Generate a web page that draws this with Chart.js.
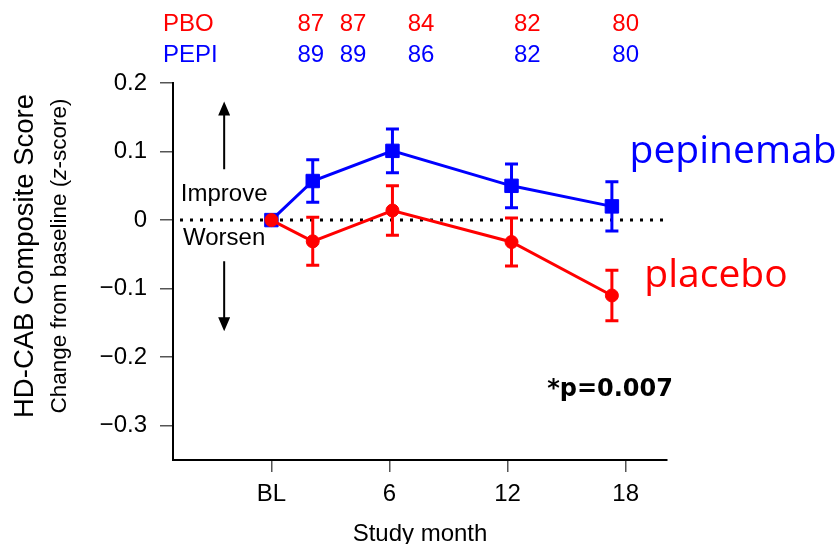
<!DOCTYPE html>
<html>
<head>
<meta charset="utf-8">
<script src="https://cdn.jsdelivr.net/npm/chart.js@4.4.0/dist/chart.umd.min.js"></script>
<style>
  html, body { margin: 0; padding: 0; background: #fff; }
  #wrap { width: 838px; height: 544px; }
</style>
</head>
<body>
<div id="wrap"><canvas id="myChart" width="838" height="544"></canvas></div>
<script>
// visit months (x) and mean change from baseline with error bars
const months = [0, 2.1, 6.15, 12.2, 17.3];
const placeboMean = [0, -0.031, 0.014, -0.032, -0.11];
const placeboErr = [0, 0.035, 0.036, 0.035, 0.037];
const pepiMean = [0, 0.057, 0.101, 0.05, 0.02];
const pepiErr = [0, 0.031, 0.032, 0.032, 0.036];

const xTickValues = [0, 6, 12, 18];
const xTickLabels = ['BL', '6', '12', '18'];
const yTickValues = [-0.3, -0.2, -0.1, 0, 0.1, 0.2];

// patient counts shown above the plot
const nLabelMonths = [2, 4.15, 7.6, 13, 18];
const pboN = [87, 87, 84, 82, 80];
const pepiN = [89, 89, 86, 82, 80];

const RED = '#ff0000';
const BLUE = '#0000ff';
const SANS = '"Liberation Sans", Arial, sans-serif';

function toPoints(xs, ys) {
    return xs.map((x, i) => ({ x: x, y: ys[i] }));
}

const extras = {
    id: 'extras',
    beforeDatasetsDraw(chart) {
        const ctx = chart.ctx;
        const xs = chart.scales.x;
        const ys = chart.scales.y;
        const area = chart.chartArea;
        ctx.save();

        // dotted zero line
        const y0 = ys.getPixelForValue(0);
        ctx.strokeStyle = '#000';
        ctx.lineWidth = 3;
        ctx.setLineDash([3, 7]);
        ctx.beginPath();
        ctx.moveTo(area.left + 7, y0);
        ctx.lineTo(area.right - 4, y0);
        ctx.stroke();
        ctx.setLineDash([]);

        // error bars
        chart.data.datasets.forEach(ds => {
            ctx.strokeStyle = ds.borderColor;
            ctx.lineWidth = 3;
            ds.data.forEach((p, i) => {
                const e = ds.errors[i];
                if (!e) return;
                const px = xs.getPixelForValue(p.x);
                const top = ys.getPixelForValue(p.y + e);
                const bot = ys.getPixelForValue(p.y - e);
                ctx.beginPath();
                ctx.moveTo(px, top); ctx.lineTo(px, bot);
                ctx.moveTo(px - 6.5, top); ctx.lineTo(px + 6.5, top);
                ctx.moveTo(px - 6.5, bot); ctx.lineTo(px + 6.5, bot);
                ctx.stroke();
            });
        });
        ctx.restore();
    },
    afterDraw(chart) {
        const ctx = chart.ctx;
        const xs = chart.scales.x;
        const ys = chart.scales.y;
        const area = chart.chartArea;
        ctx.save();

        // N rows
        ctx.font = '24px ' + SANS;
        ctx.textBaseline = 'alphabetic';
        ctx.textAlign = 'left';
        ctx.fillStyle = RED;
        ctx.fillText('PBO', 163, 31);
        ctx.fillStyle = BLUE;
        ctx.fillText('PEPI', 163, 62);
        ctx.textAlign = 'center';
        nLabelMonths.forEach((m, i) => {
            const px = xs.getPixelForValue(m);
            ctx.fillStyle = RED;
            ctx.fillText(String(pboN[i]), px, 31);
            ctx.fillStyle = BLUE;
            ctx.fillText(String(pepiN[i]), px, 62);
        });

        // Improve / Worsen arrows
        const ax = xs.getPixelForValue(-2.4);
        ctx.fillStyle = '#000';
        ctx.strokeStyle = '#000';
        ctx.lineWidth = 2;
        ctx.fillText('Improve', ax, 201);
        ctx.fillText('Worsen', ax, 245);
        const upTip = ys.getPixelForValue(0.173), upEnd = ys.getPixelForValue(0.074);
        const dnStart = ys.getPixelForValue(-0.06), dnTip = ys.getPixelForValue(-0.162);
        ctx.beginPath();
        ctx.moveTo(ax, upEnd); ctx.lineTo(ax, upTip + 8);
        ctx.moveTo(ax, dnStart); ctx.lineTo(ax, dnTip - 8);
        ctx.stroke();
        ctx.beginPath();
        ctx.moveTo(ax, upTip); ctx.lineTo(ax - 6, upTip + 14); ctx.lineTo(ax + 6, upTip + 14); ctx.closePath();
        ctx.moveTo(ax, dnTip); ctx.lineTo(ax - 6, dnTip - 14); ctx.lineTo(ax + 6, dnTip - 14); ctx.closePath();
        ctx.fill();

        // series labels
        ctx.textAlign = 'left';
        ctx.font = '39px "Open Sans", "Noto Sans", sans-serif';
        ctx.fillStyle = BLUE;
        ctx.fillText(chart.data.datasets[1].label, xs.getPixelForValue(18.2), ys.getPixelForValue(0.083));
        ctx.fillStyle = RED;
        ctx.fillText(chart.data.datasets[0].label, xs.getPixelForValue(18.95), ys.getPixelForValue(-0.098));

        // p value
        ctx.textAlign = 'right';
        ctx.font = 'bold 24px "DejaVu Sans", sans-serif';
        ctx.fillStyle = '#000';
        ctx.fillText('*p=0.007', xs.getPixelForValue(20.4), ys.getPixelForValue(-0.257));

        // x title
        ctx.textAlign = 'center';
        ctx.font = '24px ' + SANS;
        ctx.fillText('Study month', (area.left + area.right) / 2, 541);

        // y title (two lines, rotated)
        ctx.translate(0, 256);
        ctx.rotate(-Math.PI / 2);
        ctx.textBaseline = 'alphabetic';
        ctx.font = '27.5px ' + SANS;
        ctx.fillText('HD-CAB Composite Score', 0, 33);
        const parts = [
            ['Change from baseline (', '22.5px ' + SANS],
            ['z', 'italic 22.5px ' + SANS],
            ['-score)', '22.5px ' + SANS]
        ];
        let total = 0;
        parts.forEach(p => { ctx.font = p[1]; total += ctx.measureText(p[0]).width; });
        let cx = -total / 2;
        ctx.textAlign = 'left';
        parts.forEach(p => {
            ctx.font = p[1];
            ctx.fillText(p[0], cx, 66);
            cx += ctx.measureText(p[0]).width;
        });
        ctx.restore();
    }
};

const ctx = document.getElementById('myChart').getContext('2d');

const myChart = new Chart(ctx, {
    type: 'line',
    data: {
        datasets: [{
            label: 'placebo',
            data: toPoints(months, placeboMean),
            errors: placeboErr,
            borderColor: RED,
            backgroundColor: RED,
            borderWidth: 3,
            pointStyle: 'circle',
            pointRadius: 6.5,
            pointBorderWidth: 1,
            pointBackgroundColor: RED,
            pointBorderColor: RED,
            tension: 0
        }, {
            label: 'pepinemab',
            data: toPoints(months, pepiMean),
            errors: pepiErr,
            borderColor: BLUE,
            backgroundColor: BLUE,
            borderWidth: 3,
            pointStyle: 'rect',
            pointRadius: 9.5,
            pointBorderWidth: 1,
            pointBackgroundColor: BLUE,
            pointBorderColor: BLUE,
            tension: 0
        }]
    },
    options: {
        responsive: false,
        animation: false,
        events: [],
        layout: { padding: { top: 83, right: 171, left: 0, bottom: 0 } },
        plugins: {
            legend: { display: false },
            tooltip: { enabled: false }
        },
        scales: {
            x: {
                type: 'linear',
                min: -5,
                max: 20.1,
                afterBuildTicks: s => { s.ticks = xTickValues.map(v => ({ value: v })); },
                afterFit: s => { s.height = 84; },
                grid: { drawOnChartArea: false, drawTicks: true, tickLength: 12, color: '#555', lineWidth: 1.5 },
                border: { display: true, color: '#000', width: 2 },
                ticks: {
                    color: '#000',
                    font: { family: SANS, size: 24 },
                    padding: 8,
                    autoSkip: false,
                    maxRotation: 0,
                    callback: v => xTickLabels[xTickValues.indexOf(v)]
                }
            },
            y: {
                min: -0.35,
                max: 0.2,
                afterBuildTicks: s => { s.ticks = yTickValues.map(v => ({ value: v })); },
                afterFit: s => { s.width = 173; },
                grid: { drawOnChartArea: false, drawTicks: true, tickLength: 13, color: '#555', lineWidth: 1.5 },
                border: { display: true, color: '#000', width: 2 },
                ticks: {
                    color: '#000',
                    font: { family: SANS, size: 24 },
                    padding: 13,
                    callback: v => v === 0 ? '0' : (v < 0 ? '\u2212' : '') + Math.abs(v).toFixed(1)
                }
            }
        }
    },
    plugins: [extras]
});
</script>
</body>
</html>
